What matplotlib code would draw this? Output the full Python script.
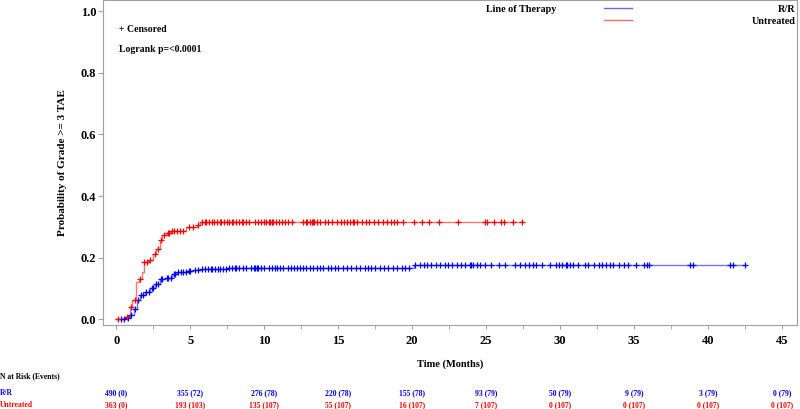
import numpy as np
import matplotlib
matplotlib.use('Agg')
import matplotlib.pyplot as plt
import matplotlib.transforms as mtransforms
from matplotlib.ticker import MultipleLocator

plt.rcParams['font.family'] = ['Liberation Serif', 'DejaVu Serif']
plt.rcParams['font.weight'] = 'bold'

# step curves (time in months, cumulative probability)
red_t = [0, 0.6, 0.9, 1.1, 1.35, 1.55, 1.73, 1.85, 2.2, 2.5, 2.7, 2.93, 3.08, 3.4,
         3.7, 4.75, 5.45, 5.67, 27.45]
red_p = [0, 0.008, 0.04, 0.062, 0.12, 0.13, 0.154, 0.186, 0.194, 0.213, 0.229, 0.256,
         0.275, 0.28, 0.285, 0.30, 0.305, 0.317, 0.317]

blue_t = [0, 0.55, 0.88, 1.2, 1.41, 1.62, 1.97, 2.3, 2.64, 2.93, 3.3, 3.75, 4.1, 4.8,
          5.2, 5.7, 7.5, 9.3, 20.1, 42.5]
blue_p = [0, 0.005, 0.013, 0.035, 0.062, 0.078, 0.089, 0.1, 0.116, 0.13, 0.135, 0.146,
          0.154, 0.156, 0.159, 0.162, 0.165, 0.168, 0.177, 0.177]

# censored times
red_cens = [0.1, 0.7, 1.0, 1.3, 1.6, 1.9, 2.1, 2.3, 2.6, 2.8, 3.0, 3.2, 3.5, 3.6, 3.8,
            3.9, 4.1, 4.3, 4.5, 4.9, 5.2, 5.5, 5.8, 6.0, 6.1, 6.3, 6.5, 6.6, 6.8, 7.0,
            7.1, 7.3, 7.5, 7.6, 7.8, 7.9, 8.1, 8.3, 8.5, 8.6, 8.8, 9.0, 9.4, 9.6, 9.8,
            10.0, 10.1, 10.3, 10.4, 10.5, 10.6, 10.8, 11.0, 11.2, 11.4, 11.6, 11.9,
            12.6, 12.8, 12.9, 13.1, 13.2, 13.3, 13.4, 13.6, 13.8, 14.1, 14.3, 14.6,
            14.9, 15.2, 15.4, 15.6, 15.8, 16.0, 16.1, 16.3, 16.6, 16.9, 17.1, 17.4,
            17.7, 18.0, 18.3, 18.6, 18.8, 19.0, 19.4, 20.15, 20.65, 21.17, 21.8, 23.1,
            24.95, 25.05, 25.56, 26.0, 26.2, 26.8, 27.45]
blue_cens = [0.3, 0.5, 0.8, 1.0, 1.3, 1.5, 1.7, 1.8, 2.0, 2.2, 2.4, 2.5, 2.7, 2.8, 3.0,
             3.1, 3.4, 3.5, 3.7, 3.9, 4.0, 4.2, 4.4, 4.5, 4.7, 4.9, 5.0, 5.3, 5.5, 5.8,
             6.0, 6.2, 6.4, 6.5, 6.7, 6.9, 7.0, 7.2, 7.4, 7.6, 7.8, 8.0, 8.1, 8.3, 8.6,
             8.8, 9.1, 9.3, 9.4, 9.5, 9.6, 9.8, 10.0, 10.3, 10.5, 10.7, 10.9, 11.1,
             11.3, 11.6, 11.8, 12.0, 12.2, 12.4, 12.6, 12.8, 13.1, 13.3, 13.6, 13.8,
             14.0, 14.3, 14.5, 14.8, 15.0, 15.3, 15.6, 15.9, 16.2, 16.5, 16.8, 17.0,
             17.2, 17.5, 17.8, 18.1, 18.4, 18.7, 19.0, 19.3, 19.5, 19.8, 20.2, 20.5,
             20.8, 21.0, 21.3, 21.6, 21.9, 22.2, 22.4, 22.7, 23.0, 23.3, 23.6, 23.9,
             24.0, 24.1, 24.4, 24.6, 24.9, 25.3, 25.9, 26.3, 26.96, 27.3, 27.6, 27.9,
             28.2, 28.4, 28.8, 29.3, 29.7, 29.9, 30.1, 30.4, 30.5, 30.7, 30.9, 31.2,
             31.7, 31.9, 32.3, 32.6, 32.8, 33.1, 33.4, 33.6, 34.0, 34.3, 34.6, 35.1,
             35.7, 35.9, 36.0, 38.8, 39.0, 41.5, 41.7, 42.5]

# risk table
risk_times = [0, 5, 10, 15, 20, 25, 30, 35, 40, 45]
rr_risk = ['490 (0)', '355 (72)', '276 (78)', '220 (78)', '155 (78)', '93 (79)',
           '50 (79)', '9 (79)', '3 (79)', '0 (79)']
un_risk = ['363 (0)', '193 (103)', '135 (107)', '55 (107)', '16 (107)', '7 (107)',
           '0 (107)', '0 (107)', '0 (107)', '0 (107)']

BLUE = '#0000ff'
RED = '#ff0000'


def step_at(ts, ps, x):
    idx = np.searchsorted(ts, x, side='right') - 1
    return np.asarray(ps)[idx]


fig = plt.figure(figsize=(8, 4.09), dpi=100)
ax = fig.add_axes([0.129, 0.205, 0.867, 0.795])

ax.step(blue_t, blue_p, where='post', color=BLUE, lw=1, alpha=0.55)
ax.step(red_t, red_p, where='post', color=RED, lw=1, alpha=0.55)
ax.plot(blue_cens, step_at(blue_t, blue_p, blue_cens), ls='none', marker='+',
        color=BLUE, ms=5, mew=0.9)
ax.plot(red_cens, step_at(red_t, red_p, red_cens), ls='none', marker='+',
        color=RED, ms=5, mew=0.9)

ax.set_xlim(-0.88, 46.0)
ax.set_ylim(-0.019, 1.036)
ax.xaxis.set_major_locator(MultipleLocator(5))
ax.xaxis.set_minor_locator(MultipleLocator(2.5))
ax.set_yticks([0, 0.2, 0.4, 0.6, 0.8, 1.0])
ax.set_yticklabels(['0.0', '0.2', '0.4', '0.6', '0.8', '1.0'])
ax.tick_params(axis='both', which='both', direction='out', colors='#a0a0a0',
               labelcolor='black', labelsize=9)
ax.tick_params(axis='x', which='both', length=3, pad=4)
ax.tick_params(axis='y', which='both', length=3.5, pad=1.5)
for lab in ax.get_xticklabels() + ax.get_yticklabels():
    lab.set_fontweight('bold')
for sp in ax.spines.values():
    sp.set_color('#a0a0a0')

ax.set_ylabel('Probability of Grade >= 3 TAE', fontsize=8, fontweight='bold', labelpad=10)
ax.set_xlabel('Time (Months)', fontsize=7.5, fontweight='bold', labelpad=9)

ax.text(0.2, 0.94, '+ Censored', fontsize=7, fontweight='bold', va='center')
ax.text(0.2, 0.877, 'Logrank p=<0.0001', fontsize=7, fontweight='bold', va='center')

# legend
ax.text(0.6535, 0.971, 'Line of Therapy', transform=ax.transAxes, fontsize=7.3,
        fontweight='bold', ha='right', va='center')
ax.plot([0.7225, 0.762], [0.975, 0.975], transform=ax.transAxes, color=BLUE, lw=1, alpha=0.6)
ax.plot([0.7225, 0.762], [0.938, 0.938], transform=ax.transAxes, color=RED, lw=1, alpha=0.6)
ax.text(0.998, 0.972, 'R/R', transform=ax.transAxes, fontsize=7.3, fontweight='bold',
        ha='right', va='center')
ax.text(0.998, 0.935, 'Untreated', transform=ax.transAxes, fontsize=7.3,
        fontweight='bold', ha='right', va='center')

# risk table
trans = mtransforms.blended_transform_factory(ax.transData, fig.transFigure)
fig.text(0.0, 1 - 376 / 409, 'N at Risk (Events)', fontsize=5.5, fontweight='bold',
         va='center')
fig.text(0.0, 1 - 393 / 409, 'R/R', fontsize=5.5, fontweight='bold', va='center',
         color=BLUE)
fig.text(0.0, 1 - 405 / 409, 'Untreated', fontsize=5.5, fontweight='bold',
         va='center', color=RED)
for t, a, b in zip(risk_times, rr_risk, un_risk):
    fig.text(t, 1 - 393 / 409, a, transform=trans, fontsize=5.5, fontweight='bold',
             ha='center', va='center', color=BLUE)
    fig.text(t, 1 - 405 / 409, b, transform=trans, fontsize=5.5, fontweight='bold',
             ha='center', va='center', color=RED)

fig.savefig('out.png', dpi=100)
